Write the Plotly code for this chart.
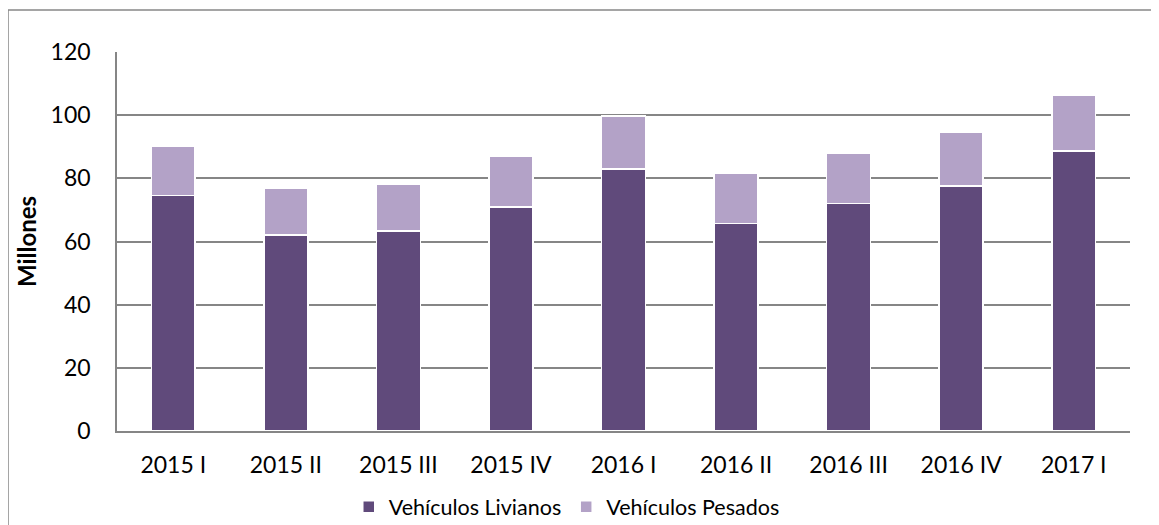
import plotly.graph_objects as go

categories = ["2015 I", "2015 II", "2015 III", "2015 IV", "2016 I", "2016 II", "2016 III", "2016 IV", "2017 I"]
livianos = [74.6, 62.1, 63.3, 71.0, 83.0, 65.7, 72.0, 77.5, 88.6]
pesados = [15.7, 14.9, 14.7, 16.0, 16.7, 15.8, 16.0, 17.0, 17.7]
y_ticks = [0, 20, 40, 60, 80, 100, 120]

FONT = "Lato, Calibri, 'Open Sans', sans-serif"

fig = go.Figure()
fig.add_trace(go.Bar(
    x=categories, y=livianos, name="Vehículos Livianos",
    marker=dict(color="#604A7B", line=dict(color="white", width=1.5)),
))
fig.add_trace(go.Bar(
    x=categories, y=pesados, name="Vehículos Pesados",
    marker=dict(color="#B3A2C7", line=dict(color="white", width=1.5)),
))

PW, PH = 1013, 379
fig.update_layout(
    barmode="stack",
    bargap=0.61,
    width=1151, height=517,
    margin=dict(l=109, r=29, t=44, b=94, autoexpand=False),
    plot_bgcolor="white", paper_bgcolor="white",
    font=dict(family=FONT, size=22, color="#000000"),
    legend=dict(orientation="h", x=0.444, xanchor="center", y=-0.2, yanchor="middle",
                font=dict(size=21.5), traceorder="normal", itemwidth=30),
    showlegend=True,
    xaxis=dict(showline=True, linecolor="#868686", linewidth=1.5, ticks="",
               tickfont=dict(size=23), showgrid=False, ticklabelstandoff=13),
    yaxis=dict(range=[0, 120], tickvals=y_ticks, showgrid=True, gridcolor="#868686",
               gridwidth=1.5, showline=True, linecolor="#868686", linewidth=1.5,
               ticks="", ticklen=0, tickfont=dict(size=23), zeroline=False,
               ticklabelstandoff=20,
               title=dict(text="<b>Millones</b>", font=dict(size=24), standoff=7)),
    shapes=[dict(type="rect", xref="paper", yref="paper",
                 x0=-109 / PW, x1=1.2, y0=-0.4, y1=1 + 42 / PH,
                 line=dict(color="#888888", width=1.5), fillcolor="rgba(0,0,0,0)", layer="below")],
)

fig.write_html("out.html")
